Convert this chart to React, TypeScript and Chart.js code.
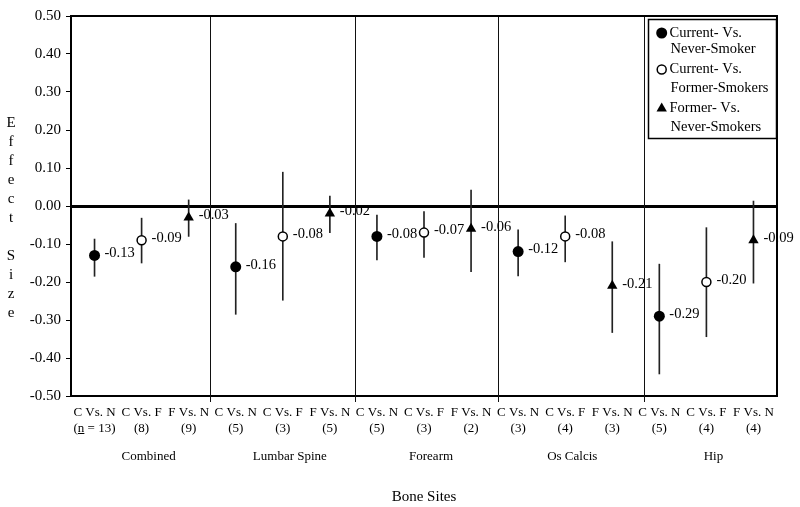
import React, { useEffect, useRef } from 'react';
import { Chart, registerables } from 'chart.js';

Chart.register(...registerables);

// ---------- data ----------
const COMPARISONS = [
  'C Vs. N', 'C Vs. F', 'F Vs. N',
  'C Vs. N', 'C Vs. F', 'F Vs. N',
  'C Vs. N', 'C Vs. F', 'F Vs. N',
  'C Vs. N', 'C Vs. F', 'F Vs. N',
  'C Vs. N', 'C Vs. F', 'F Vs. N',
];
const SAMPLE_SIZES = ['(n = 13)', '(8)', '(9)', '(5)', '(3)', '(5)', '(5)', '(3)', '(2)', '(3)', '(4)', '(3)', '(5)', '(4)', '(4)'];
const SITES = ['Combined', 'Lumbar Spine', 'Forearm', 'Os Calcis', 'Hip'];
const SERIES_NAMES = [
  ['Current- Vs.', 'Never-Smoker'],
  ['Current- Vs.', 'Former-Smokers'],
  ['Former- Vs.', 'Never-Smokers'],
];
const CURRENT_VS_NEVER = [-0.13, -0.16, -0.08, -0.12, -0.29];
const CURRENT_VS_FORMER = [-0.09, -0.08, -0.07, -0.08, -0.2];
const FORMER_VS_NEVER = [-0.03, -0.02, -0.06, -0.21, -0.09];
// 95% interval ends, in category order
const CI_LOW = [-0.185, -0.15, -0.08, -0.285, -0.248, -0.07, -0.142, -0.135, -0.173, -0.184, -0.147, -0.333, -0.442, -0.344, -0.203];
const CI_HIGH = [-0.087, -0.032, 0.016, -0.046, 0.089, 0.026, -0.024, -0.015, 0.042, -0.063, -0.026, -0.094, -0.153, -0.057, 0.013];
const Y_MIN = -0.5;
const Y_MAX = 0.5;
const Y_STEP = 0.1;
const AXIS_TITLE_X = 'Bone Sites';
const AXIS_TITLE_Y = 'Effect Size';

// separators between sites, in category-index units
const SEPARATORS = [2.46, 5.53, 8.58, 11.68];

const SERIF = '"Liberation Serif", "Times New Roman", serif';

function expand(vals: number[], k: number): (number | null)[] {
  const out: (number | null)[] = new Array(COMPARISONS.length).fill(null);
  vals.forEach((v, g) => { out[g * 3 + k] = v; });
  return out;
}

function fracPixel(scale: any, p: number) {
  const i = Math.floor(p);
  const t = p - i;
  const a = scale.getPixelForValue(i);
  const b = scale.getPixelForValue(i + 1);
  return a + (b - a) * t;
}

function drawMarker(ctx: CanvasRenderingContext2D, kind: number, x: number, y: number) {
  ctx.save();
  if (kind === 0) {
    ctx.fillStyle = '#000';
    ctx.beginPath(); ctx.arc(x, y, 5.5, 0, Math.PI * 2); ctx.fill();
  } else if (kind === 1) {
    ctx.fillStyle = '#fff'; ctx.strokeStyle = '#000'; ctx.lineWidth = 1.5;
    ctx.beginPath(); ctx.arc(x, y, 4.5, 0, Math.PI * 2); ctx.fill(); ctx.stroke();
  } else {
    const r = 6;
    ctx.fillStyle = '#000';
    ctx.beginPath();
    ctx.moveTo(x, y - r);
    ctx.lineTo(x + r * Math.sin(Math.PI * 2 / 3), y - r * Math.cos(Math.PI * 2 / 3));
    ctx.lineTo(x + r * Math.sin(Math.PI * 4 / 3), y - r * Math.cos(Math.PI * 4 / 3));
    ctx.closePath(); ctx.fill();
  }
  ctx.restore();
}

const decorations = {
  id: 'decorations',
  beforeDatasetsDraw(chart: any) {
    const { ctx, chartArea: a, scales } = chart;
    const x = scales.x;
    ctx.save();
    ctx.strokeStyle = '#111';
    ctx.lineWidth = 1;
    SEPARATORS.forEach((p) => {
      const px = Math.round(fracPixel(x, p)) + 0.5;
      ctx.beginPath(); ctx.moveTo(px, a.top); ctx.lineTo(px, a.bottom + 6); ctx.stroke();
    });
    ctx.restore();
  },
  afterDatasetsDraw(chart: any) {
    const { ctx } = chart;
    ctx.save();
    ctx.fillStyle = '#000';
    ctx.font = `14.5px ${SERIF}`;
    ctx.textAlign = 'left';
    ctx.textBaseline = 'middle';
    [1, 2, 3].forEach((di) => {
      const ds = chart.data.datasets[di];
      const meta = chart.getDatasetMeta(di);
      ds.data.forEach((v: number | null, i: number) => {
        if (v === null) return;
        const el = meta.data[i];
        ctx.fillText(v.toFixed(2), el.x + 10, el.y - 2);
      });
    });
    ctx.restore();
  },
  afterDraw(chart: any) {
    const { ctx, chartArea: a, scales } = chart;
    const x = scales.x;
    ctx.save();
    // top & right frame
    ctx.strokeStyle = '#000';
    ctx.lineWidth = 2;
    ctx.beginPath();
    ctx.moveTo(a.left, a.top); ctx.lineTo(a.right, a.top); ctx.lineTo(a.right, a.bottom);
    ctx.stroke();

    // legend
    const lx = 648.5, ly = 19.5, lw = 128, lh = 119;
    ctx.fillStyle = '#fff';
    ctx.fillRect(lx, ly, lw, lh);
    ctx.lineWidth = 1.5;
    ctx.strokeRect(lx, ly, lw, lh);
    const rows = [[33, 49.5], [69.5, 88], [108.5, 127]];
    ctx.font = `14.5px ${SERIF}`;
    ctx.fillStyle = '#000';
    ctx.textAlign = 'left';
    ctx.textBaseline = 'middle';
    SERIES_NAMES.forEach((lines, k) => {
      drawMarker(ctx, k, 661.7, rows[k][0]);
      ctx.fillStyle = '#000';
      ctx.fillText(lines[0], 669.5, rows[k][0]);
      ctx.fillText(lines[1], 670.5, rows[k][1]);
    });

    // y title: stacked letters
    ctx.font = `15px ${SERIF}`;
    ctx.textAlign = 'center';
    AXIS_TITLE_Y.split('').forEach((ch, i) => {
      if (ch !== ' ') ctx.fillText(ch, 11, 123 + i * 19);
    });

    // site labels
    ctx.font = `13px ${SERIF}`;
    SITES.forEach((s, g) => {
      ctx.fillText(s, fracPixel(x, g * 3 + 1.15), 456.5);
    });

    // underline the "n" in "(n = 13)"
    ctx.font = `13px ${SERIF}`;
    const label = SAMPLE_SIZES[0];
    const full = ctx.measureText(label).width;
    const pre = ctx.measureText('(').width;
    const nW = ctx.measureText('n').width;
    const cx = x.getPixelForValue(0);
    const sx = cx - full / 2 + pre;
    ctx.lineWidth = 1;
    ctx.beginPath();
    ctx.moveTo(sx, 433.5); ctx.lineTo(sx + nW, 433.5);
    ctx.stroke();
    ctx.restore();
  },
};

export default function App() {
  const ref = useRef<HTMLCanvasElement>(null);
  useEffect(() => {
    if (!ref.current) return;
    const labels = COMPARISONS.map((c, i) => [c, SAMPLE_SIZES[i]]);
    const pointDs = (vals: number[], k: number) => {
      const base: any = {
        type: 'line',
        label: SERIES_NAMES[k].join(' '),
        data: expand(vals, k),
        showLine: false,
        order: 0,
        pointBorderColor: '#000',
      };
      if (k === 0) Object.assign(base, { pointStyle: 'circle', pointRadius: 5.5, pointBackgroundColor: '#000', pointBorderWidth: 0 });
      if (k === 1) Object.assign(base, { pointStyle: 'circle', pointRadius: 4.5, pointBackgroundColor: '#fff', pointBorderWidth: 1.5 });
      if (k === 2) Object.assign(base, { pointStyle: 'triangle', pointRadius: 6, pointBackgroundColor: '#000', pointBorderWidth: 0 });
      return base;
    };
    const chart = new Chart(ref.current, {
      type: 'bar',
      data: {
        labels,
        datasets: [
          {
            type: 'bar',
            label: 'interval',
            data: CI_LOW.map((lo, i) => [lo, CI_HIGH[i]]) as any,
            backgroundColor: '#222',
            borderWidth: 0,
            barThickness: 1,
            order: 10,
          } as any,
          pointDs(CURRENT_VS_NEVER, 0),
          pointDs(CURRENT_VS_FORMER, 1),
          pointDs(FORMER_VS_NEVER, 2),
        ],
      },
      options: {
        responsive: false,
        animation: false,
        layout: { padding: { top: 16, right: 23, left: 0, bottom: 0 } },
        plugins: { legend: { display: false }, tooltip: { enabled: false } },
        scales: {
          x: {
            offset: true,
            grid: { display: false },
            border: { display: true, color: '#000', width: 2 },
            ticks: {
              color: '#000',
              font: { family: SERIF, size: 13, lineHeight: 1.23 },
              padding: 1,
              maxRotation: 0,
              autoSkip: false,
            },
            title: {
              display: true,
              text: AXIS_TITLE_X,
              color: '#000',
              font: { family: SERIF, size: 15 },
              padding: { top: 0, bottom: 1 },
            },
            afterFit: (s: any) => { s.height = 111; },
          },
          y: {
            min: Y_MIN,
            max: Y_MAX,
            grid: {
              drawOnChartArea: true,
              color: (c: any) => (Math.abs(c.tick?.value ?? 1) < 1e-9 ? '#000' : 'rgba(0,0,0,0)'),
              lineWidth: (c: any) => (Math.abs(c.tick?.value ?? 1) < 1e-9 ? 3 : 1),
              tickColor: '#000',
              tickWidth: 1,
              tickLength: 5,
            },
            border: { display: true, color: '#000', width: 2 },
            ticks: {
              stepSize: Y_STEP,
              color: '#000',
              padding: 5,
              font: { family: SERIF, size: 15 },
              callback: (v: any) => (Math.abs(v) < 1e-9 ? '0.00' : Number(v).toFixed(2)),
            },
            afterFit: (s: any) => { s.width = 71; },
          },
        },
      },
      plugins: [decorations],
    });
    return () => chart.destroy();
  }, []);
  return (
    <div style={{ position: 'absolute', left: 0, top: 0, width: 800, height: 507, background: '#fff' }}>
      <canvas ref={ref} width={800} height={507} style={{ display: 'block' }} />
    </div>
  );
}
